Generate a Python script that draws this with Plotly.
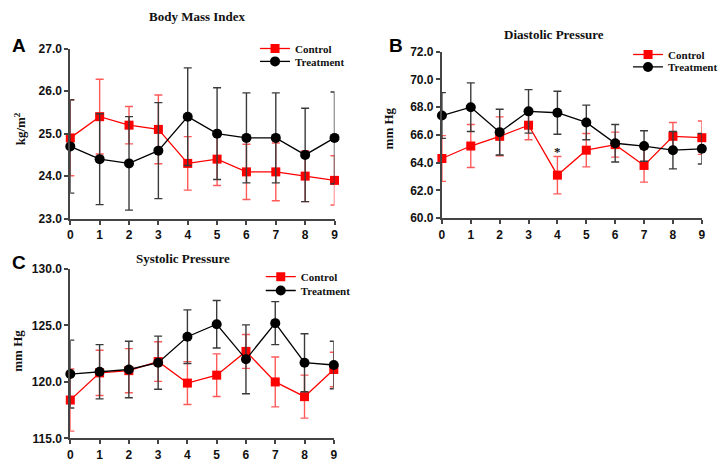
import plotly.graph_objects as go

# =============================================================================
# DATA
# =============================================================================

weeks = list(range(10))

bmi_control = [24.9, 25.4, 25.2, 25.1, 24.3, 24.4, 24.1, 24.1, 24.0, 23.9]
bmi_control_sd = [0.89, 0.88, 0.44, 0.81, 0.63, 0.62, 0.65, 0.68, 0.60, 0.58]
bmi_treat = [24.7, 24.4, 24.3, 24.6, 25.4, 25.0, 24.9, 24.9, 24.5, 24.9]
bmi_treat_sd = [1.10, 1.07, 1.10, 1.13, 1.15, 1.08, 1.06, 1.06, 1.10, 1.08]

dia_control = [64.3, 65.2, 65.9, 66.7, 63.1, 64.9, 65.3, 63.8, 65.9, 65.8]
dia_control_sd = [1.65, 1.55, 1.40, 1.05, 1.35, 1.20, 0.90, 1.20, 1.00, 1.20]
dia_treat = [67.4, 68.0, 66.2, 67.7, 67.6, 66.9, 65.4, 65.2, 64.9, 65.0]
dia_treat_sd = [1.65, 1.75, 1.65, 1.57, 1.55, 1.25, 1.35, 1.10, 1.35, 1.10]

sys_control = [118.4, 120.8, 121.0, 121.8, 119.9, 120.6, 122.7, 120.0, 118.7, 121.1]
sys_control_sd = [2.75, 2.0, 1.95, 1.75, 1.9, 1.88, 1.5, 2.2, 1.9, 1.53]
sys_treat = [120.7, 120.9, 121.1, 121.7, 124.0, 125.1, 122.0, 125.2, 121.7, 121.5]
sys_treat_sd = [3.0, 2.4, 2.5, 2.35, 2.37, 2.1, 3.05, 1.9, 2.56, 2.1]

# =============================================================================
# STYLE
# =============================================================================

RED = "#ff0000"
RED_ERR = "#ff5a5a"
BLACK = "#000000"
GREY_ERR = "#3a3a3a"
AXIS = "#444444"

SERIF = "Liberation Serif"
SANS = "Liberation Sans"


def add_pair(fig, ax, legs, control, control_sd, treat, treat_sd):
    xa, ya = ("x", "y") if ax == 1 else (f"x{ax}", f"y{ax}")
    fig.add_trace(go.Scatter(
        x=weeks, y=control, name="Control", mode="lines+markers",
        xaxis=xa, yaxis=ya, legend=legs[0], cliponaxis=False,
        line=dict(color=RED, width=1.3),
        marker=dict(symbol="square", size=9, color=RED),
        error_y=dict(type="data", array=control_sd, color=RED_ERR,
                     thickness=1.4, width=4),
    ))
    fig.add_trace(go.Scatter(
        x=weeks, y=treat, name="Treatment", mode="lines+markers",
        xaxis=xa, yaxis=ya, legend=legs[1], cliponaxis=False,
        line=dict(color=BLACK, width=1.3),
        marker=dict(symbol="circle", size=10, color=BLACK),
        error_y=dict(type="data", array=treat_sd, color=GREY_ERR,
                     thickness=1.4, width=4),
    ))


fig = go.Figure()

# one legend per entry so the two rows can sit close together
add_pair(fig, 1, ("legend", "legend2"),
         bmi_control, bmi_control_sd, bmi_treat, bmi_treat_sd)
add_pair(fig, 2, ("legend3", "legend4"),
         dia_control, dia_control_sd, dia_treat, dia_treat_sd)
add_pair(fig, 3, ("legend5", "legend6"),
         sys_control, sys_control_sd, sys_treat, sys_treat_sd)

common_x = dict(
    range=[0, 9], dtick=1, tick0=0, showgrid=False, zeroline=False,
    showline=True, linecolor=AXIS, linewidth=2,
    ticks="outside", ticklen=4, tickwidth=2, tickcolor=AXIS,
    tickfont=dict(family=SANS, size=12, color="#111111", weight="bold"),
)
common_y = dict(
    showgrid=False, zeroline=False, showline=True, linecolor=AXIS,
    linewidth=2, ticks="outside", ticklen=4, tickwidth=2, tickcolor=AXIS,
    tickformat=".1f",
    tickfont=dict(family=SANS, size=12, color="#111111", weight="bold"),
)

legend_common = dict(
    font=dict(family=SERIF, size=11, color="#111111", weight="bold"),
    bgcolor="rgba(0,0,0,0)", itemwidth=30, tracegroupgap=0,
    xanchor="left", yanchor="middle",
)

fig.update_layout(
    width=723,
    height=475,
    margin=dict(l=0, r=0, t=0, b=0),
    plot_bgcolor="white",
    paper_bgcolor="white",
    xaxis=dict(common_x, domain=[0.094, 0.463], anchor="y"),
    yaxis=dict(common_y, domain=[0.541, 0.9095], range=[23, 27], dtick=1,
               anchor="x"),
    xaxis2=dict(common_x, domain=[0.613, 0.976], anchor="y2"),
    yaxis2=dict(common_y, domain=[0.542, 0.903], range=[60, 72], dtick=2,
                anchor="x2"),
    xaxis3=dict(common_x, domain=[0.094, 0.462], anchor="y3"),
    yaxis3=dict(common_y, domain=[0.064, 0.432], range=[115, 130], dtick=5,
                anchor="x3"),
    legend=dict(legend_common, x=0.352, y=0.910),
    legend2=dict(legend_common, x=0.352, y=0.882),
    legend3=dict(legend_common, x=0.873, y=0.897),
    legend4=dict(legend_common, x=0.873, y=0.870),
    legend5=dict(legend_common, x=0.360, y=0.415),
    legend6=dict(legend_common, x=0.360, y=0.385),
    showlegend=True,
)

# panel titles, letters and axis titles
titles = [
    ("Body Mass Index", 0.271, 0.980),
    ("Diastolic Pressure", 0.770, 0.940),
    ("Systolic Pressure", 0.252, 0.455),
]
for text, x, y in titles:
    fig.add_annotation(text=f"<b>{text}</b>", x=x, y=y, xref="paper",
                       yref="paper", showarrow=False, xanchor="center",
                       yanchor="middle",
                       font=dict(family=SERIF, size=13, color="#111111"))

letters = [("A", 0.022, 0.916), ("B", 0.549, 0.916), ("C", 0.022, 0.445)]
for text, x, y in letters:
    fig.add_annotation(text=f"<b>{text}</b>", x=x, y=y, xref="paper",
                       yref="paper", showarrow=False, xanchor="center",
                       yanchor="middle",
                       font=dict(family=SANS, size=19, color="#000000"))

ytitles = [
    ("kg/m<sup>2</sup>", 0.024, 0.735),
    ("mm Hg", 0.538, 0.737),
    ("mm Hg", 0.020, 0.255),
]
for text, x, y in ytitles:
    fig.add_annotation(text=f"<b>{text}</b>", x=x, y=y, xref="paper",
                       yref="paper", showarrow=False, textangle=-90,
                       xanchor="center", yanchor="middle",
                       font=dict(family=SERIF, size=13, color="#111111"))

# significance marker above control at week 4
fig.add_annotation(text="<b>*</b>", x=4, y=dia_control[4] + dia_control_sd[4] + 0.35,
                   xref="x2", yref="y2", showarrow=False,
                   font=dict(family=SERIF, size=13, color="#111111"))

fig.write_html(
    "out.html",
    config={"displayModeBar": False},
    post_script="document.body.style.margin='0';"
                "document.body.style.overflow='hidden';",
)
